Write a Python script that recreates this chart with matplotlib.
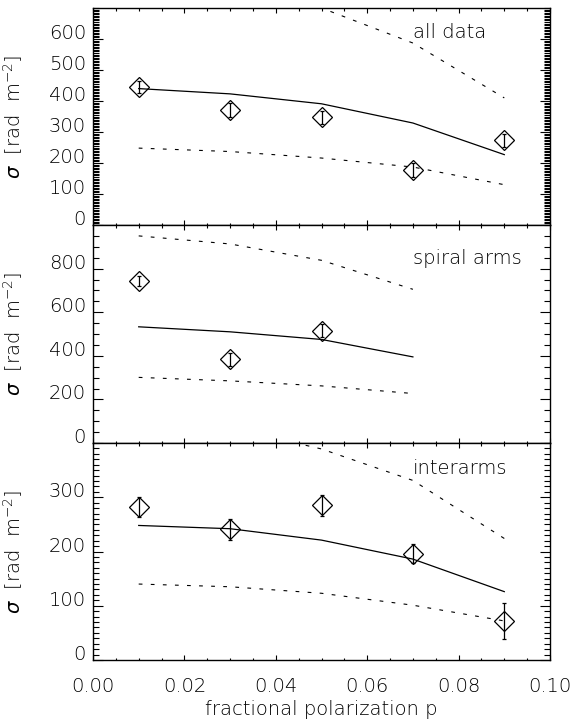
import matplotlib
matplotlib.use("Agg")
import matplotlib.pyplot as plt
from matplotlib.ticker import MultipleLocator, FixedLocator, FormatStrFormatter

# ---------------- data ----------------
p_all = [0.01, 0.03, 0.05, 0.07, 0.09]
all_obs = [445, 372, 348, 178, 273]
all_err = [20, 22, 21, 22, 21]
all_model = [440, 423, 391, 329, 227]
all_lower = [248, 237, 216, 187, 130]
all_upper = [783, 753, 700, 587, 410]

p_sp_obs = [0.01, 0.03, 0.05]
sp_obs = [743, 385, 515]
sp_err = [22, 30, 30]
p_sp_model = [0.01, 0.03, 0.05, 0.07]
sp_model = [533, 510, 475, 395]
sp_lower = [301, 285, 262, 227]
sp_upper = [950, 913, 838, 705]

p_int = [0.01, 0.03, 0.05, 0.07, 0.09]
int_obs = [282, 241, 285, 196, 72]
int_err = [18, 19, 20, 17, 33]
int_model = [248, 242, 221, 186, 126]
int_lower = [140, 135, 123, 101, 72]
int_upper = [440, 428, 389, 331, 224]

panel_names = ["all data", "spiral arms", "interarms"]
ylims = [(0, 700), (0, 1000), (0, 400)]
yticks = [[0, 100, 200, 300, 400, 500, 600],
          [0, 200, 400, 600, 800],
          [0, 100, 200, 300]]
yminor = [5, 50, 10]
xticks = [0.00, 0.02, 0.04, 0.06, 0.08, 0.10]
xlabel = "fractional polarization p"
ylabel = r"$\mathit{\sigma}$  [rad  m$^{-2}$]"

# ---------------- style ----------------
plt.rcParams['font.family'] = ['DejaVu Sans']
plt.rcParams['font.weight'] = 'light'
plt.rcParams['axes.labelweight'] = 'light'
plt.rcParams['mathtext.fontset'] = 'custom'
plt.rcParams['mathtext.rm'] = 'DejaVu Sans:light'
plt.rcParams['mathtext.it'] = 'DejaVu Sans:light:italic'
plt.rcParams['mathtext.bf'] = 'DejaVu Sans:bold'
plt.rcParams['lines.scale_dashes'] = False
TXT = 'black'
FS = 14

fig = plt.figure(figsize=(5.75, 7.19), dpi=100)
L, R = 93 / 575, 550 / 575
edges = [8, 225, 443, 660]
axes = []
for i in range(3):
    top = 1 - edges[i] / 719
    bot = 1 - edges[i + 1] / 719
    ax = fig.add_axes([L, bot, R - L, top - bot])
    axes.append(ax)

datasets = [
    (p_all, all_obs, all_err, p_all, all_model, all_lower, all_upper),
    (p_sp_obs, sp_obs, sp_err, p_sp_model, sp_model, sp_lower, sp_upper),
    (p_int, int_obs, int_err, p_int, int_model, int_lower, int_upper),
]

name_y = [33, 258, 469]
for i, ax in enumerate(axes):
    po, obs, err, pm, model, lower, upper = datasets[i]
    ax.plot(pm, model, color='black', lw=0.9)
    ax.plot(pm, lower, color='black', lw=0.8, ls=(0, (2.7, 6.0)))
    ax.plot(pm, upper, color='black', lw=0.8, ls=(0, (2.7, 6.0)))
    ax.errorbar(po, obs, yerr=err, fmt='none', ecolor='black', elinewidth=0.9,
                capsize=1.6, capthick=0.9)
    ax.plot(po, obs, ls='none', marker='D', ms=10, mfc='none', mec='black', mew=0.9)

    ax.set_xlim(0, 0.1)
    ax.set_ylim(*ylims[i])
    ax.xaxis.set_major_locator(FixedLocator(xticks))
    ax.xaxis.set_minor_locator(MultipleLocator(0.005))
    ax.yaxis.set_major_locator(FixedLocator(yticks[i]))
    ax.yaxis.set_minor_locator(MultipleLocator(yminor[i]))
    ax.yaxis.set_major_formatter(FormatStrFormatter('%d'))
    ax.tick_params(axis='both', which='both', direction='in', top=True, right=True,
                   width=0.8, colors='black', labelcolor=TXT, labelsize=FS)
    ax.tick_params(axis='x', which='major', length=3.8, pad=12)
    ax.tick_params(axis='x', which='minor', length=1.8)
    ax.tick_params(axis='y', which='major', length=7.0, pad=5)
    ax.tick_params(axis='y', which='minor', length=4.0)
    for s in ax.spines.values():
        s.set_linewidth(1.0)
    if i < 2:
        ax.tick_params(axis='x', labelbottom=False)
    else:
        ax.xaxis.set_major_formatter(FormatStrFormatter('%.2f'))
        ax.set_xlabel(xlabel, fontsize=FS, color=TXT, labelpad=3, fontweight='light')
    ax.set_ylabel(ylabel, fontsize=FS, color=TXT, fontweight='light')
    ax.yaxis.set_label_coords(-0.149, 0.5)
    top_px, bot_px = edges[i], edges[i + 1]
    ax.text(0.07, (bot_px - name_y[i]) / (bot_px - top_px), panel_names[i],
            fontsize=FS, color=TXT, ha='left', va='center', fontweight='light',
            transform=ax.get_xaxis_transform())
    for t in ax.yaxis.get_major_ticks():
        if t.get_loc() == 0:
            t.label1.set_verticalalignment('baseline')

fig.savefig("out.png", dpi=100)
